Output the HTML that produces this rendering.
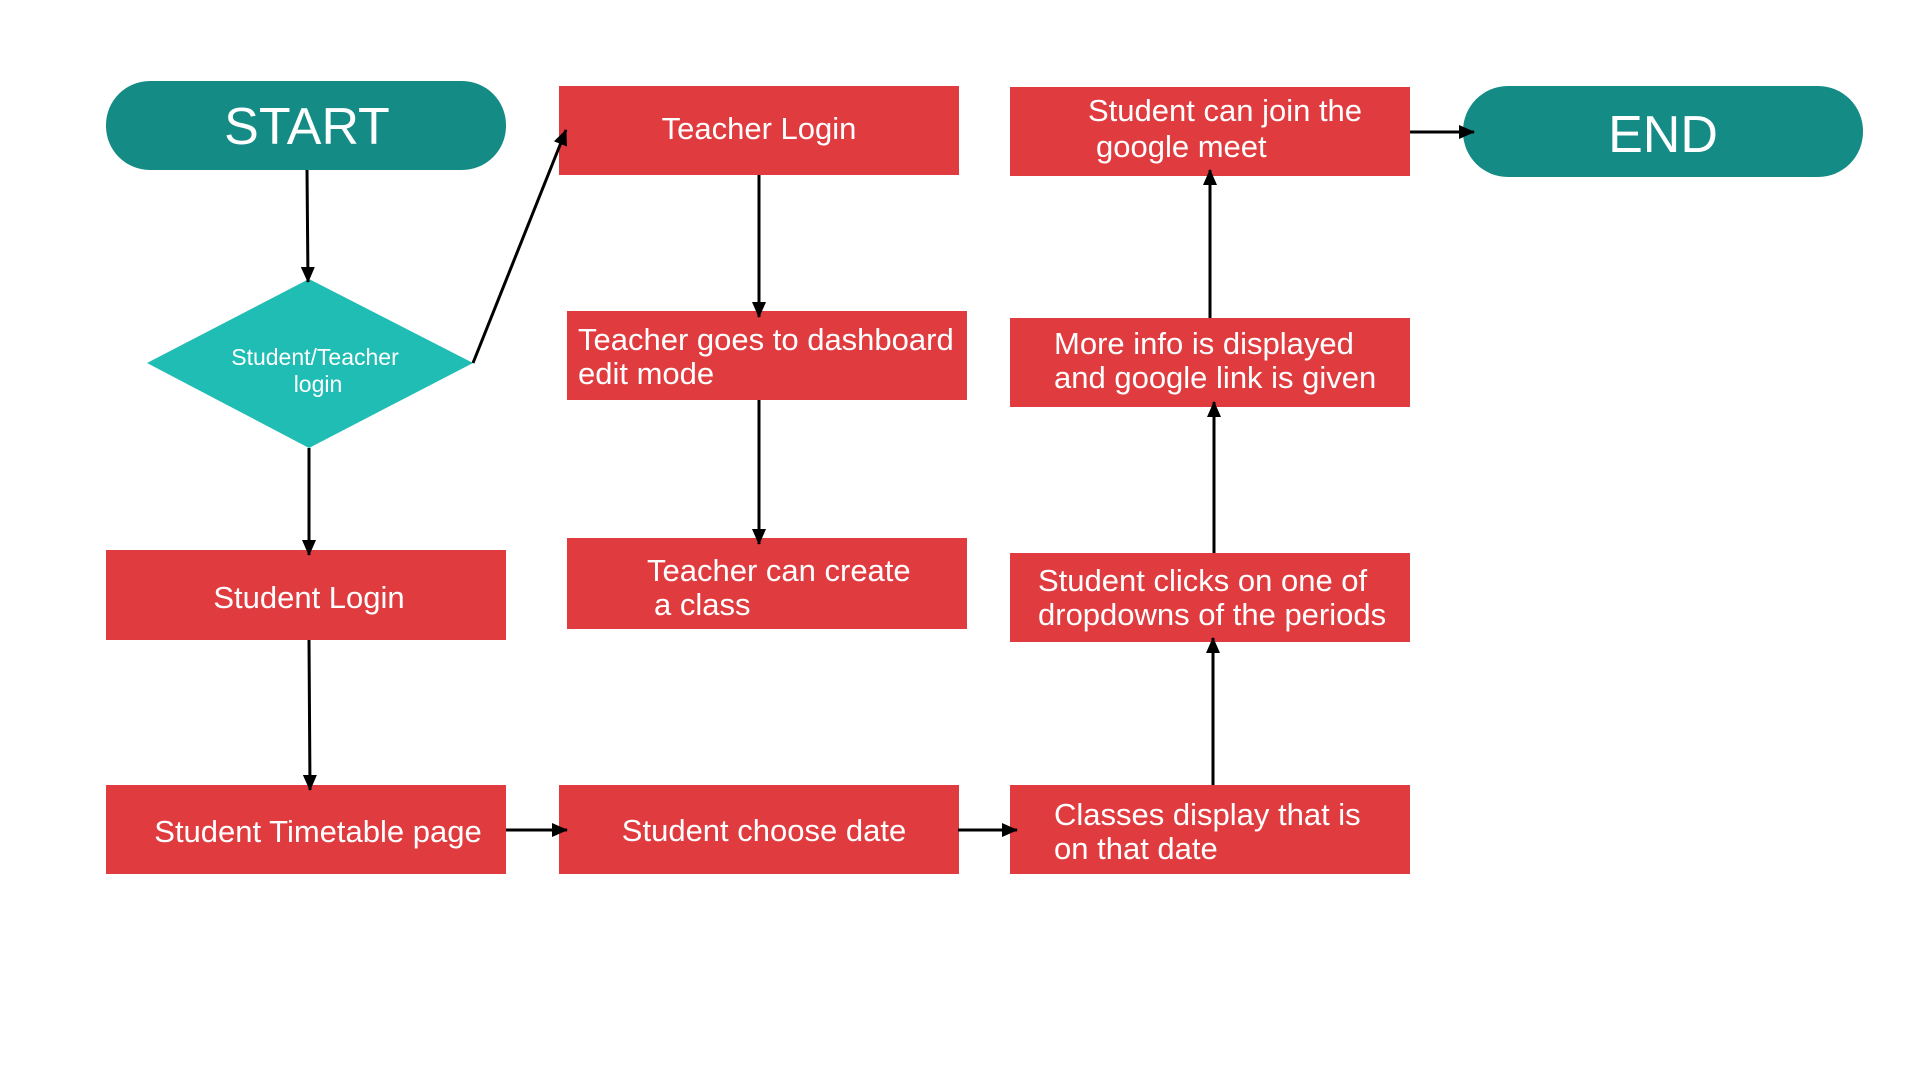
<!DOCTYPE html>
<html><head><meta charset="utf-8"><style>
html,body{margin:0;padding:0;background:#fff;}
svg{display:block;}
text{font-family:"Liberation Sans",sans-serif;fill:#fff;}
</style></head><body>
<svg width="1920" height="1080" viewBox="0 0 1920 1080" xmlns="http://www.w3.org/2000/svg">
<defs>
<marker id="b" markerWidth="16" markerHeight="14" refX="15" refY="7" orient="auto" markerUnits="userSpaceOnUse">
<path d="M0,0 L16,7 L0,14 Z" fill="#000"/>
</marker>
</defs>
<rect width="1920" height="1080" fill="#fff"/>
<rect x="106" y="81" width="400" height="89" rx="44" fill="#148b85"/>
<text x="307" y="144" font-size="52" text-anchor="middle">START</text>
<rect x="1463" y="86" width="400" height="91" rx="45" fill="#148b85"/>
<text x="1663" y="152" font-size="52" text-anchor="middle">END</text>
<polygon points="309,279 473,363 309,448 147,363" fill="#20bdb5"/>
<text x="315" y="365" font-size="23" text-anchor="middle">Student/Teacher</text>
<text x="318" y="392" font-size="23" text-anchor="middle">login</text>
<g fill="#e03c40">
<rect x="559" y="86" width="400" height="89"/>
<rect x="1010" y="87" width="400" height="89"/>
<rect x="567" y="311" width="400" height="89"/>
<rect x="1010" y="318" width="400" height="89"/>
<rect x="106" y="550" width="400" height="90"/>
<rect x="567" y="538" width="400" height="91"/>
<rect x="1010" y="553" width="400" height="89"/>
<rect x="106" y="785" width="400" height="89"/>
<rect x="559" y="785" width="400" height="89"/>
<rect x="1010" y="785" width="400" height="89"/>
</g>
<g font-size="31">
<text x="759" y="139" text-anchor="middle">Teacher Login</text>
<text x="1088" y="121">Student can join the</text>
<text x="1096" y="157">google meet</text>
<text x="578" y="350">Teacher goes to dashboard</text>
<text x="578" y="384">edit mode</text>
<text x="1054" y="354">More info is displayed</text>
<text x="1054" y="388">and google link is given</text>
<text x="309" y="608" text-anchor="middle">Student Login</text>
<text x="647" y="581">Teacher can create</text>
<text x="654" y="615">a class</text>
<text x="1038" y="591">Student clicks on one of</text>
<text x="1038" y="625">dropdowns of the periods</text>
<text x="318" y="842" text-anchor="middle">Student Timetable page</text>
<text x="764" y="841" text-anchor="middle">Student choose date</text>
<text x="1054" y="825">Classes display that is</text>
<text x="1054" y="859">on that date</text>
</g>
<g stroke="#000" stroke-width="3" fill="none" marker-end="url(#b)">
<line x1="307" y1="170" x2="308" y2="282"/>
<line x1="309" y1="448" x2="309" y2="555"/>
<line x1="309" y1="640" x2="310" y2="790"/>
<line x1="473" y1="363" x2="566" y2="130"/>
<line x1="759" y1="175" x2="759" y2="317"/>
<line x1="759" y1="400" x2="759" y2="544"/>
<line x1="506" y1="830" x2="567" y2="830"/>
<line x1="958" y1="830" x2="1017" y2="830"/>
<line x1="1213" y1="785" x2="1213" y2="638"/>
<line x1="1214" y1="553" x2="1214" y2="402"/>
<line x1="1210" y1="318" x2="1210" y2="170"/>
<line x1="1410" y1="132" x2="1474" y2="132"/>
</g>
</svg>
</body></html>
